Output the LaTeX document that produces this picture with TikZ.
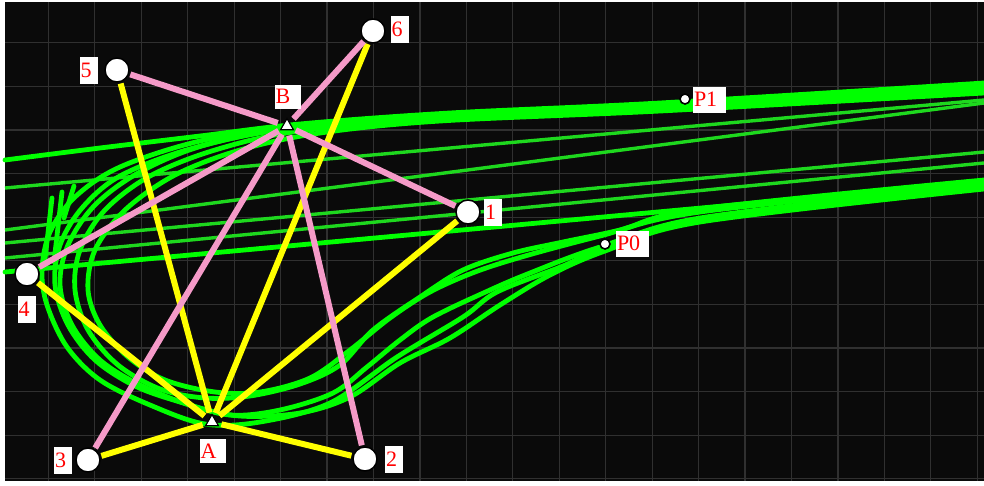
\documentclass[tikz,border=0pt]{standalone}
\usepackage{fontspec}
\setmainfont{Liberation Serif}
\usetikzlibrary{shapes.geometric}
\definecolor{bgdark}{HTML}{0A0A0A}
\definecolor{gridc}{HTML}{303030}
\definecolor{trk}{HTML}{00FF00}
\definecolor{trkdot}{HTML}{1ED81E}
\definecolor{linkY}{HTML}{FFFF00}
\definecolor{linkP}{HTML}{F59AC8}
\definecolor{lblred}{HTML}{FF0000}
\tikzset{
  gridline/.style={gridc, line width=1.2pt},
  track/.style={trk, line width=4.8pt, line cap=round, line join=round},
  trackdot/.style={trkdot, line width=3.4pt},
  station/.style={circle, fill=white, draw=black, line width=1.5pt, minimum size=24pt, inner sep=0pt, outer sep=2pt},
  probe/.style={circle, fill=white, draw=black, line width=1.6pt, minimum size=10pt, inner sep=0pt},
  hub/.style={circle, minimum size=19pt, inner sep=0pt},
  tri/.style={regular polygon, regular polygon sides=3, fill=white, draw=black, line width=1.2pt, minimum size=15pt, inner sep=0pt},
  lbl/.style={fill=white, text=lblred, inner xsep=1pt, inner ysep=0pt, font=\fontsize{22}{22}\selectfont, text width=16pt, align=left, minimum height=27pt},
  lblwide/.style={lbl, text width=31pt, minimum height=26pt},
  lblmid/.style={lbl, text width=24pt, minimum height=24pt},
  linkA/.style={linkY, line width=6pt},
  linkB/.style={linkP, line width=6pt}
}
\begin{document}
\begin{tikzpicture}[x=1pt,y=-1pt]
\useasboundingbox (0,0) rectangle (984,485);
\fill[white] (0,0) rectangle (984,485);
\fill[bgdark] (5,2) rectangle (984,481);
\foreach \k in {0,...,20} \draw[gridline] ({48.3+46.45*\k},2) -- ({48.3+46.45*\k},481);
\foreach \k in {0,...,10} \draw[gridline] (5,{42.7+43.6*\k}) -- (984,{42.7+43.6*\k});

% straight-ish tracks
\draw[trackdot] (5,188) -- (984,100);
\draw[trackdot] (5,230) -- (984,103);
\draw[trackdot] (5,243) -- (984,152);
\draw[trackdot] (5,258) -- (984,163);
\draw[track] (5,272) -- (984,182);
\draw[track] plot[smooth,tension=0.55] coordinates {(5,160) (100,148) (200,136) (300,124) (450,113) (660,103) (984,83)};

% U-turn tracks
\draw[track] plot[smooth,tension=0.55] coordinates {(984,85) (660,104) (450,114) (300,125) (200,141) (120,167) (75,197) (50,232) (42,270) (47,305) (67,347) (100,380) (150,405) (205,424) (260,422) (330,403) (397,357) (463,317) (497,292) (563,266) (605,247) (700,218) (984,184)};
\draw[track] plot[smooth,tension=0.55] coordinates {(984,88) (660,106) (450,116) (290,128) (190,149) (120,176) (82,208) (60,245) (55,285) (68,325) (95,360) (135,386) (180,402) (230,415) (280,410) (333,393) (367,367) (400,340) (433,317) (490,290) (530,273) (597,248) (700,220) (984,187)};
\draw[track] plot[smooth,tension=0.55] coordinates {(984,91) (660,109) (450,119) (300,131) (215,150) (150,176) (105,210) (80,250) (75,290) (88,330) (118,365) (160,389) (205,398) (250,396) (300,384) (340,365) (373,330) (420,297) (463,270) (513,253) (563,242) (620,230) (700,209) (984,180)};
\draw[track] plot[smooth,tension=0.55] coordinates {(984,93) (660,111) (440,121) (320,133) (240,150) (175,175) (125,210) (95,250) (88,290) (100,325) (128,357) (165,380) (215,392) (260,392) (310,378) (350,350) (390,318) (430,292) (475,272) (525,256) (600,236) (700,212) (984,182)};
\draw[track] plot[smooth,tension=0.55] coordinates {(984,86) (660,105) (450,115) (300,127) (205,145) (140,172) (95,205) (68,245) (60,285) (72,325) (100,360) (140,385) (190,405) (240,416) (300,413) (350,397) (400,363) (450,338) (500,305) (550,275) (605,251) (700,222) (984,189)};
\draw[track] (52,198) -- (44,268);
\draw[track] (62,192) -- (54,262);
\draw[track] (74,186) -- (64,218);

% nodes
\node[station] (n1) at (468,212) {};
\node[station] (n2) at (365,459) {};
\node[station] (n3) at (88,460) {};
\node[station] (n4) at (27,274) {};
\node[station] (n5) at (117,70) {};
\node[station] (n6) at (373,31) {};
\node[hub] (A) at (212,422) {};
\node[hub] (B) at (287,126) {};
\node[tri] (Atri) at (212,422) {};
\node[tri] (Btri) at (287,126) {};
\node[probe] (p0) at (605,244) {};
\node[probe] (p1) at (685,99) {};

% links
\foreach \s in {n1,n2,n3,n4,n5,n6} \draw[linkA] (\s) -- (A);
\foreach \s in {n1,n2,n3,n4,n5,n6} \draw[linkB] (\s) -- (B);

% labels
\node[lbl] (l1) at (493,212.5) {1};
\node[lbl] (l2) at (394,459) {2};
\node[lbl] (l3) at (63,460) {3};
\node[lbl] (l4) at (26.7,309) {4};
\node[lbl] (l5) at (88.5,70) {5};
\node[lbl] (l6) at (399.5,29.5) {6};
\node[lblmid] (lA) at (212.7,451) {A};
\node[lblmid] (lB) at (287.5,96.5) {B};
\node[lblwide] (lp0) at (632.5,243.5) {P0};
\node[lblwide] (lp1) at (709.5,99.5) {P1};
\end{tikzpicture}
\end{document}
